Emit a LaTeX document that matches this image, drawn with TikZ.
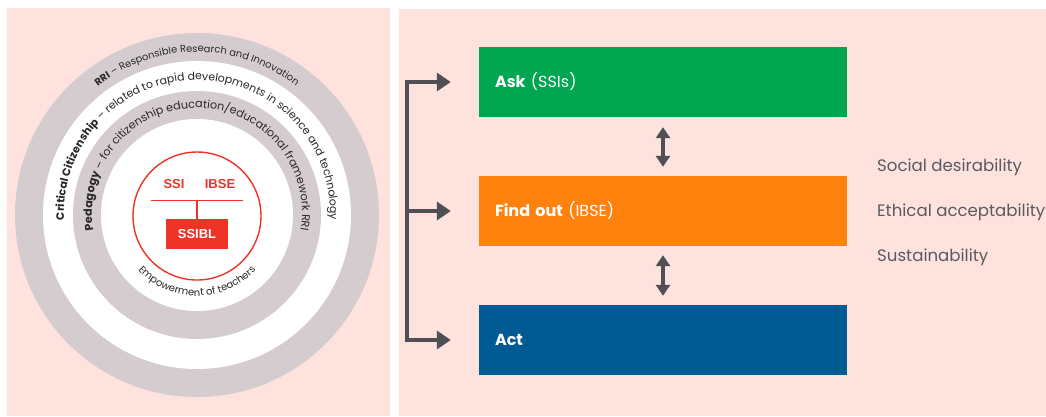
\documentclass[tikz,border=0pt]{standalone}
\usepackage{fontspec}
\setmainfont{Poppins}
\newfontfamily\arialf{Liberation Sans}
\usetikzlibrary{decorations.text,arrows.meta,calc}

\definecolor{panel}{RGB}{254,226,222}
\definecolor{ring}{RGB}{213,204,208}
\definecolor{ssired}{RGB}{238,52,38}
\definecolor{askgreen}{RGB}{0,166,80}
\definecolor{findorange}{RGB}{255,130,15}
\definecolor{actblue}{RGB}{0,90,148}
\definecolor{arrowgray}{RGB}{80,80,84}
\definecolor{labelgray}{RGB}{90,90,96}
\definecolor{ringtext}{RGB}{40,40,44}

% ring caption fonts, one size per ring
\newcommand\ringreg[1]{\fontsize{#1}{12}\selectfont\mdseries\color{ringtext}}
\newcommand\ringbold[1]{\fontsize{#1}{12}\selectfont\bfseries\color{ringtext}}
\newcommand\stagefont{\fontsize{16}{19}\selectfont}
\newcommand\critfont{\fontsize{16.6}{19}\selectfont}
\newcommand\treefont{\arialf\bfseries\fontsize{13}{15}\selectfont}

\tikzset{
  ringlabel/.style={decorate, decoration={text along path, text align=center, text={#1}}},
  stage/.style={minimum width=368pt, minimum height=70pt, text width=336pt,
    inner xsep=16pt, inner ysep=0pt, align=left, text=white, font=\stagefont},
  criterion/.style={anchor=west, text=labelgray, font=\critfont, inner sep=0pt},
  conn/.style={draw=arrowgray, line width=3.5pt, -{Triangle[length=14pt,width=18pt]}},
  twoway/.style={draw=arrowgray, line width=3.5pt,
    {Triangle[length=11pt,width=14pt]}-{Triangle[length=11pt,width=14pt]}},
  treeline/.style={draw=ssired, line width=1.5pt},
}

\begin{document}
\begin{tikzpicture}[x=1pt,y=1pt]
\useasboundingbox (0,0) rectangle (1046,-416);
\fill[white] (0,0) rectangle (1046,-416);
\fill[panel] (7,-8) rectangle (390,-416);
\fill[panel] (399,-9) rectangle (1046,-416);

% concentric rings
\coordinate (C) at (197,-215);
\coordinate (T) at (197,-213);
\fill[ring]  (C) circle[radius=182pt];
\fill[white] (C) circle[radius=154pt];
\fill[ring]  (C) circle[radius=124pt];
\fill[white] (C) circle[radius=96pt];

% ring captions
\path[ringlabel={|\ringbold{9.9}|RRI|\ringreg{9.9}| – Responsible Research and Innovation}]
  ($(T)+(200:161pt)$) arc[start angle=200, end angle=-20, radius=161pt];
\path[ringlabel={|\ringbold{10.9}|Critical Citizenship|\ringreg{10.9}| – related to rapid developments in science and technology}]
  ($(T)+(210:133pt)$) arc[start angle=210, end angle=-30, radius=133pt];
\path[ringlabel={|\ringbold{11.2}|Pedagogy|\ringreg{11.2}| – for citizenship education/educational framework RRI}]
  ($(T)+(220:105pt)$) arc[start angle=220, end angle=-40, radius=105pt];

% core
\node[circle, draw=ssired, line width=1.4pt, minimum size=128pt, inner sep=0pt] (core) at (197,-216) {};
\node[text=ssired, font=\treefont, inner sep=0pt] (ssi) at (174,-184) {SSI};
\node[text=ssired, font=\treefont, inner sep=0pt] (ibse) at (220,-184) {IBSE};
\coordinate (barL) at (151,-200.5);
\coordinate (barR) at (243,-200.5);
\draw[treeline] (barL) -- (barR);
\node[fill=ssired, minimum width=62pt, minimum height=30pt, inner sep=0pt,
      text=white, font=\treefont] (ssibl) at (197,-234) {SSIBL};
\draw[treeline] (ssibl.north) -- (ssibl.north |- barL);

\path[ringlabel={|\ringreg{10}|Empowerment of teachers}]
  ($(core.center)+(200:80pt)$) arc[start angle=200, end angle=340, radius=80pt];

% stages
\node[stage, fill=askgreen]   (ask)  at (663,-82)  {\textbf{Ask} (SSIs)};
\node[stage, fill=findorange] (find) at (663,-211) {\textbf{Find out} (IBSE)};
\node[stage, fill=actblue]    (act)  at (663,-340) {\textbf{Act}};

\coordinate (spine) at (407,0);
\draw[conn] (spine |- act.west) -- (spine |- ask.west) -- ([xshift=-28pt]ask.west);
\draw[conn] (spine |- find.west) -- ([xshift=-28pt]find.west);
\draw[conn] (spine |- ask.west) -- (spine |- act.west) -- ([xshift=-28pt]act.west);

\draw[twoway, shorten <=10pt, shorten >=9pt] (ask.south) -- (find.north);
\draw[twoway, shorten <=9pt, shorten >=9pt] (find.south) -- (act.north);

% criteria
\node[criterion] (social)  at (877,-167) {Social desirability};
\node[criterion] (ethical) at (877,-212) {Ethical acceptability};
\node[criterion] (sustain) at (877,-257) {Sustainability};
\end{tikzpicture}
\end{document}
